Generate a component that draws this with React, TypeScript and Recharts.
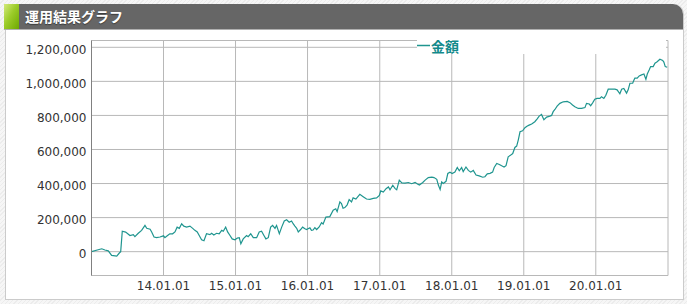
import React from "react"
import { LineChart, Line, XAxis, YAxis, CartesianGrid, Legend } from "recharts"

// balance readings, grouped by year: [date, amount]
const y2013: [string, number][] = [
  ["2013-01-01", 0], ["2013-02-04", 11000], ["2013-02-22", 17000], ["2013-03-10", 10000], ["2013-03-27", 5000],
  ["2013-04-13", -22000], ["2013-05-09", -26000], ["2013-05-22", -8000], ["2013-05-29", 0], ["2013-06-06", 120000],
  ["2013-06-23", 115000], ["2013-07-15", 95000], ["2013-08-01", 100000], ["2013-08-09", 88000], ["2013-08-26", 108000],
  ["2013-09-12", 125000], ["2013-09-29", 154000], ["2013-10-08", 137000], ["2013-10-25", 132000], ["2013-11-02", 116000],
  ["2013-11-14", 86000], ["2013-11-27", 82000], ["2013-12-14", 86000],
]
const y2014: [string, number][] = [
  ["2014-01-01", 93000], ["2014-01-08", 82000], ["2014-01-20", 93000], ["2014-02-02", 105000], ["2014-02-16", 105000],
  ["2014-02-28", 116000], ["2014-03-11", 144000], ["2014-03-22", 137000], ["2014-04-03", 164000], ["2014-04-14", 150000],
  ["2014-04-28", 144000], ["2014-05-15", 150000], ["2014-05-29", 137000], ["2014-06-09", 125000], ["2014-06-21", 116000],
  ["2014-07-01", 95000], ["2014-07-13", 70000], ["2014-07-25", 64000], ["2014-08-07", 105000], ["2014-08-24", 100000],
  ["2014-09-02", 108000], ["2014-09-13", 98000], ["2014-09-27", 108000], ["2014-10-10", 105000], ["2014-10-23", 125000],
  ["2014-10-31", 120000], ["2014-11-12", 144000], ["2014-11-22", 116000], ["2014-12-04", 95000], ["2014-12-15", 75000],
  ["2014-12-29", 70000],
]
const y2015: [string, number][] = [
  ["2015-01-10", 80000], ["2015-01-20", 82000], ["2015-01-28", 46000], ["2015-02-09", 75000], ["2015-02-26", 95000],
  ["2015-03-06", 88000], ["2015-03-19", 105000], ["2015-04-01", 82000], ["2015-04-18", 82000], ["2015-05-01", 116000],
  ["2015-05-13", 120000], ["2015-05-25", 95000], ["2015-06-04", 75000], ["2015-06-16", 82000], ["2015-06-28", 144000],
  ["2015-07-08", 154000], ["2015-07-20", 137000], ["2015-07-28", 154000], ["2015-08-11", 105000], ["2015-08-23", 144000],
  ["2015-09-05", 180000], ["2015-09-17", 187000], ["2015-09-30", 173000], ["2015-10-12", 180000], ["2015-10-20", 164000],
  ["2015-10-29", 150000], ["2015-11-07", 137000], ["2015-11-15", 116000], ["2015-11-27", 130000], ["2015-12-07", 144000],
  ["2015-12-19", 135000], ["2015-12-27", 130000],
]
const y2016: [string, number][] = [
  ["2016-01-13", 140000], ["2016-01-21", 125000], ["2016-01-29", 127000], ["2016-02-07", 141000], ["2016-02-16", 130000],
  ["2016-02-29", 145000], ["2016-03-12", 170000], ["2016-03-20", 162000], ["2016-04-03", 203000], ["2016-04-23", 206000],
  ["2016-05-10", 243000], ["2016-05-23", 252000], ["2016-05-30", 235000], ["2016-06-13", 292000], ["2016-06-21", 283000],
  ["2016-06-29", 255000], ["2016-07-08", 259000], ["2016-07-20", 275000], ["2016-07-30", 306000], ["2016-08-11", 292000],
  ["2016-08-19", 316000], ["2016-09-02", 309000], ["2016-09-22", 337000], ["2016-10-09", 323000], ["2016-10-26", 309000],
  ["2016-11-12", 307000], ["2016-11-29", 313000], ["2016-12-16", 316000], ["2016-12-30", 330000],
]
const y2017: [string, number][] = [
  ["2017-01-06", 357000], ["2017-01-19", 350000], ["2017-02-02", 370000], ["2017-02-14", 380000], ["2017-02-22", 363000],
  ["2017-03-08", 390000], ["2017-03-20", 370000], ["2017-03-28", 363000], ["2017-04-10", 420000], ["2017-04-23", 404000],
  ["2017-05-09", 403000], ["2017-05-26", 406000], ["2017-06-12", 399000], ["2017-06-29", 407000], ["2017-07-11", 397000],
  ["2017-07-21", 391000], ["2017-08-07", 406000], ["2017-08-19", 420000], ["2017-09-04", 435000], ["2017-09-22", 438000],
  ["2017-10-03", 435000], ["2017-10-17", 425000], ["2017-10-25", 391000], ["2017-11-03", 365000], ["2017-11-11", 409000],
  ["2017-11-19", 400000], ["2017-12-03", 413000], ["2017-12-12", 459000], ["2017-12-23", 467000],
]
const y2018: [string, number][] = [
  ["2018-01-03", 459000], ["2018-01-17", 467000], ["2018-01-29", 494000], ["2018-02-08", 475000], ["2018-02-20", 494000],
  ["2018-02-28", 470000], ["2018-03-14", 497000], ["2018-03-26", 477000], ["2018-04-07", 467000], ["2018-04-20", 477000],
  ["2018-05-04", 450000], ["2018-05-20", 445000], ["2018-06-07", 437000], ["2018-06-18", 440000], ["2018-06-30", 457000],
  ["2018-07-14", 460000], ["2018-07-27", 467000], ["2018-08-04", 494000], ["2018-08-17", 518000], ["2018-08-30", 512000],
  ["2018-09-11", 504000], ["2018-09-23", 497000], ["2018-10-03", 505000], ["2018-10-14", 557000], ["2018-10-27", 567000],
  ["2018-11-06", 576000], ["2018-11-17", 612000], ["2018-11-26", 620000], ["2018-12-04", 655000], ["2018-12-13", 704000],
  ["2018-12-26", 710000],
]
const y2019: [string, number][] = [
  ["2019-01-07", 728000], ["2019-01-17", 737000], ["2019-01-28", 743000], ["2019-02-10", 750000], ["2019-02-26", 763000],
  ["2019-03-10", 780000], ["2019-03-20", 796000], ["2019-04-01", 806000], ["2019-04-13", 775000], ["2019-04-27", 790000],
  ["2019-05-13", 796000], ["2019-05-22", 800000], ["2019-05-30", 822000], ["2019-06-08", 835000], ["2019-06-19", 855000],
  ["2019-07-03", 871000], ["2019-07-20", 880000], ["2019-08-09", 882000], ["2019-08-23", 875000], ["2019-09-05", 861000],
  ["2019-09-17", 851000], ["2019-10-04", 841000], ["2019-10-21", 841000], ["2019-11-07", 846000], ["2019-11-15", 871000],
  ["2019-11-29", 867000], ["2019-12-06", 857000], ["2019-12-16", 874000], ["2019-12-27", 895000],
]
const y2020: [string, number][] = [
  ["2020-01-08", 900000], ["2020-01-22", 900000], ["2020-01-30", 910000], ["2020-02-11", 900000], ["2020-02-21", 918000],
  ["2020-03-04", 954000], ["2020-03-21", 954000], ["2020-04-07", 954000], ["2020-04-18", 950000], ["2020-05-02", 927000],
  ["2020-05-11", 954000], ["2020-05-22", 958000], ["2020-06-05", 931000], ["2020-06-13", 950000], ["2020-06-22", 989000],
  ["2020-07-06", 989000], ["2020-07-12", 1007000], ["2020-07-17", 1019000], ["2020-07-29", 1019000], ["2020-08-08", 1032000],
  ["2020-08-20", 1038000], ["2020-09-01", 1043000], ["2020-09-11", 1012000], ["2020-09-18", 1043000], ["2020-09-28", 1068000],
  ["2020-10-05", 1087000], ["2020-10-18", 1087000], ["2020-10-27", 1107000], ["2020-11-07", 1115000], ["2020-11-21", 1130000],
  ["2020-12-05", 1123000], ["2020-12-11", 1113000], ["2020-12-18", 1087000], ["2020-12-28", 1083000],
]

const yearTicks = ["2014-01-01", "2015-01-01", "2016-01-01", "2017-01-01", "2018-01-01", "2019-01-01", "2020-01-01"]
const amountTicks = [0, 200000, 400000, 600000, 800000, 1000000, 1200000]
const seriesName = "金額"
const title = "運用結果グラフ"

const data = [...y2013, ...y2014, ...y2015, ...y2016, ...y2017, ...y2018, ...y2019, ...y2020]
  .map(([d, v]) => ({ t: Date.parse(d), amount: v }))

const TEAL = "#1f958f"
const axisFont = { fill: "#333", fontSize: 12, fontFamily: "'DejaVu Sans', Verdana, sans-serif" }

const fmtDate = (t: number) => {
  const d = new Date(t)
  return `${String(d.getUTCFullYear()).slice(2)}.01.01`
}

function LegendBox() {
  return (
    <div style={{
      width: 249, height: 16, background: "#fff", display: "flex", alignItems: "center",
      fontFamily: "'Noto Sans CJK JP', sans-serif", fontWeight: 700, fontSize: 14, color: "#138a8b",
    }}>
      <svg width={14} height={16}><line x1={0} y1={7.5} x2={13} y2={7.5} stroke={TEAL} strokeWidth={1.5} /></svg>
      <span style={{ lineHeight: "16px" }}>{seriesName}</span>
    </div>
  )
}

export default function App() {
  return (
    <div style={{
      position: "absolute", left: 0, top: 0, width: 687, height: 304, overflow: "hidden",
      background: "repeating-linear-gradient(135deg, #f6f6f6 0 2px, #ececec 2px 3px)",
    }}>
      <div style={{
        position: "absolute", left: 5, top: 4, width: 677, height: 295,
        background: "#fff", border: "1px solid #cbcbcb", borderTop: "none", borderTopRightRadius: 10,
      }} />
      <div style={{
        position: "absolute", left: 4, top: 4, width: 679, height: 25, background: "#666",
        borderTopRightRadius: 10, borderBottom: "1px solid #b0b0b0", overflow: "hidden",
      }}>
        <div style={{
          position: "absolute", left: 0, top: 0, width: 15, height: 25,
          background: "linear-gradient(120deg, #d4ea7a 0%, #9ccc2a 45%, #6ea800 100%)",
        }} />
        <div style={{
          position: "absolute", left: 21, top: 0, height: 25, lineHeight: "24px",
          color: "#fff", fontWeight: 700, fontSize: 14, fontFamily: "'Noto Sans CJK JP', sans-serif",
          textShadow: "0 1px 1px rgba(0,0,0,0.45)",
        }}>{title}</div>
      </div>
      <div style={{ position: "absolute", left: 0, top: 0 }}>
        <LineChart width={687} height={304} data={data} margin={{ top: 40.5, right: 19, bottom: 0, left: 0 }}>
          <CartesianGrid stroke="#b8b8b8" />
          <XAxis
            dataKey="t" type="number" scale="time"
            domain={[Date.parse("2013-01-01"), Date.parse("2021-01-01")]}
            ticks={yearTicks.map(d => Date.parse(d))}
            tickFormatter={fmtDate}
            height={28.5} axisLine={{ stroke: "#b8b8b8" }} tickLine={false} tickSize={6} tickMargin={0}
            tick={axisFont}
          />
          <YAxis
            domain={[-140000, 1240000]} ticks={amountTicks} allowDataOverflow
            tickFormatter={(v: number) => v.toLocaleString("en-US")}
            width={91.5} axisLine={{ stroke: "#808080" }} tickLine={false} tickSize={0} tickMargin={5}
            tick={{ ...axisFont, dy: 2 }}
          />
          <Legend
            layout="vertical" align="center" verticalAlign="middle"
            wrapperStyle={{ left: 417, top: 38, width: 249, height: 16 }}
            content={() => <LegendBox />}
          />
          <Line
            type="linear" dataKey="amount" name={seriesName} stroke={TEAL} strokeWidth={1.2}
            dot={false} activeDot={false} isAnimationActive={false}
          />
        </LineChart>
      </div>
    </div>
  )
}
